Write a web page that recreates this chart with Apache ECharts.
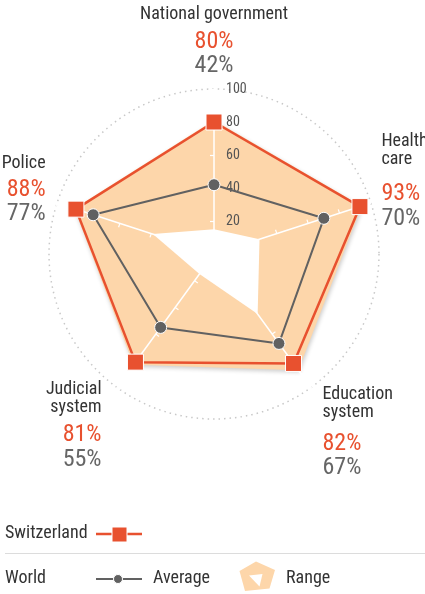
<!DOCTYPE html>
<html>
<head>
<meta charset="utf-8">
<script src="https://cdn.jsdelivr.net/npm/echarts@6/dist/echarts.min.js"></script>
<style>
  html, body { margin: 0; padding: 0; background: #fff; }
  #chart { width: 425px; height: 594px; }
</style>
</head>
<body>
<div id="chart"></div>
<script>
// indicators, counter-clockwise from the top
const indicators = ["National government", "Police", "Judicial system", "Education system", "Health care"];
const nameLines = [["National government"], ["Police"], ["Judicial", "system"], ["Education", "system"], ["Health", "care"]];
const switzerland = [80, 88, 81, 82, 93];
const average = [42, 77, 55, 67, 70];
const rangeMax = [81, 89, 83, 87, 94];
const rangeMin = [15, 39, 15, 45, 29];

const FONT = '"Liberation Sans Narrow", "Roboto Condensed", Roboto, sans-serif';
const RED = "#e8512f";
const GREY = "#616161";
const ORANGE = "#fdd6aa";

// label block tweaks: [top spacer, gap names->pct, bottom spacer, horizontal pad]
const nameLayout = [
  [0, 6, 0, 0],
  [0, 5, 19, 1],
  [60, 6, 0, 9],
  [73, 10, 0, 5],
  [0, 13, 36, 0],
];

const rich = {};
nameLayout.forEach((l, i) => {
  const pad = i === 1 || i === 2 ? [0, l[3], 0, 0] : [0, 0, 0, l[3]];
  rich["n" + i] = { fontFamily: FONT, fontSize: 18, lineHeight: 18, color: "#333", padding: pad };
  rich["r" + i] = { fontFamily: FONT, fontSize: 24, lineHeight: 25, color: RED, padding: pad };
  rich["g" + i] = { fontFamily: FONT, fontSize: 24, lineHeight: 24, color: "#666", padding: pad };
  rich["t" + i] = { fontSize: 1, lineHeight: l[0] };
  rich["m" + i] = { fontSize: 1, lineHeight: l[1] };
  rich["b" + i] = { fontSize: 1, lineHeight: l[2] };
});

function nameText(name) {
  const i = indicators.indexOf(name);
  const l = nameLayout[i];
  const out = [];
  if (l[0]) out.push(`{t${i}| }`);
  nameLines[i].forEach((s) => out.push(`{n${i}|${s}}`));
  out.push(`{m${i}| }`);
  out.push(`{r${i}|${switzerland[i]}%}`);
  out.push(`{g${i}|${average[i]}%}`);
  if (l[2]) out.push(`{b${i}| }`);
  return out.join("\n");
}

const chart = echarts.init(document.getElementById("chart"));

chart.setOption({
  animation: false,
  radar: {
    center: [214, 254],
    radius: 165,
    startAngle: 90,
    shape: "circle",
    splitNumber: 5,
    z: 3,
    nameGap: 11,
    indicator: indicators.map((n, i) => ({
      name: n,
      min: 0,
      max: 100,
      axisLabel: { show: i === 0 },
    })),
    axisName: { formatter: nameText, rich: rich },
    splitArea: { show: false },
    splitLine: {
      lineStyle: {
        color: ["transparent", "transparent", "transparent", "transparent", "transparent", "#c8c8c8"],
        type: [1.5, 4],
        width: 1.5,
      },
    },
    axisLine: { lineStyle: { color: "#fff", width: 1.5 } },
    axisTick: { show: true, length: 4, lineStyle: { color: "#fff", width: 1.2 } },
    axisLabel: {
      show: true,
      color: "#555",
      fontSize: 14,
      fontFamily: FONT,
      margin: -12,
      align: "left",
      formatter: (v) => (v === 0 ? "" : v),
    },
  },
  series: [
    {
      name: "Range",
      type: "radar",
      z: 1,
      symbol: "none",
      silent: true,
      data: [
        {
          value: rangeMax,
          lineStyle: { width: 0 },
          areaStyle: {
            color: ORANGE,
            opacity: 1,
            shadowColor: "rgba(0,0,0,0.2)",
            shadowBlur: 4,
            shadowOffsetX: 1,
            shadowOffsetY: 2,
          },
        },
        {
          value: rangeMin,
          lineStyle: { width: 0 },
          areaStyle: { color: "#fff", opacity: 1 },
        },
      ],
    },
    {
      name: "Average",
      type: "radar",
      z: 5,
      symbol: "circle",
      symbolSize: 12,
      lineStyle: { color: GREY, width: 2 },
      itemStyle: { color: GREY, borderColor: "#fff", borderWidth: 1 },
      data: [{ value: average }],
    },
    {
      name: "Switzerland",
      type: "radar",
      z: 6,
      symbol: "rect",
      symbolSize: 16,
      lineStyle: { color: RED, width: 2.5 },
      itemStyle: { color: RED, borderColor: "#fff", borderWidth: 1 },
      data: [{ value: switzerland }],
    },
  ],
  // legend block under the chart
  graphic: [
    { type: "text", left: 5, top: 524, style: { text: "Switzerland", font: `18px ${FONT}`, fill: "#333" } },
    { type: "line", shape: { x1: 96, y1: 534, x2: 142, y2: 534 }, style: { stroke: RED, lineWidth: 2.5 } },
    { type: "rect", shape: { x: 112, y: 527, width: 15, height: 15 }, style: { fill: RED, stroke: "#fff", lineWidth: 1 } },
    { type: "line", shape: { x1: 5, y1: 553.5, x2: 425, y2: 553.5 }, style: { stroke: "#dcdcdc", lineWidth: 1 } },
    { type: "text", left: 5, top: 569, style: { text: "World", font: `18px ${FONT}`, fill: "#333" } },
    { type: "line", shape: { x1: 96, y1: 579, x2: 142, y2: 579 }, style: { stroke: GREY, lineWidth: 2 } },
    { type: "circle", shape: { cx: 118, cy: 579, r: 4.5 }, style: { fill: GREY, stroke: "#fff", lineWidth: 1 } },
    { type: "text", left: 153, top: 569, style: { text: "Average", font: `18px ${FONT}`, fill: "#333" } },
    {
      type: "polygon",
      shape: { points: [[256, 561.5], [275, 570], [269.5, 588.5], [245, 591], [239.5, 571]] },
      style: { fill: ORANGE },
    },
    {
      type: "polygon",
      shape: { points: [[249, 575.5], [262.5, 574], [259.5, 586.5]] },
      style: { fill: "#fff" },
    },
    { type: "text", left: 286, top: 569, style: { text: "Range", font: `18px ${FONT}`, fill: "#333" } },
  ],
});

window.addEventListener("resize", () => chart.resize());
</script>
</body>
</html>
